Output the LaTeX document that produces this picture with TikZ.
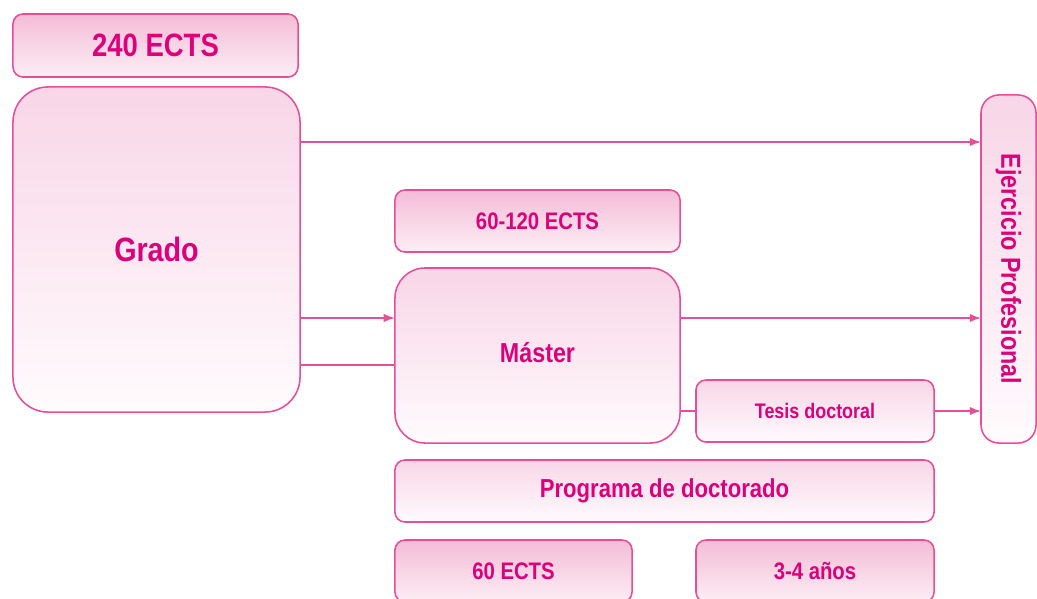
\documentclass[tikz,border=0pt]{standalone}
\usepackage{fontspec}
\setsansfont[FakeStretch=0.85]{Liberation Sans}
\usetikzlibrary{arrows.meta}

\definecolor{linepink}{RGB}{232,78,152}
\definecolor{textpink}{RGB}{222,0,122}
\definecolor{darktop}{RGB}{243,188,214}
\definecolor{darkbot}{RGB}{253,238,245}
\definecolor{lighttop}{RGB}{248,214,231}
\definecolor{lightbot}{RGB}{255,251,253}

\tikzset{
  box/.style={draw=linepink, line width=1.1pt, rounded corners=0.25cm,
    inner sep=0pt, outer sep=0pt, font=\sffamily\bfseries, text=textpink},
  darkbox/.style={box, top color=darktop, bottom color=darkbot},
  lightbox/.style={box, top color=lighttop, bottom color=lightbot},
  conn/.style={linepink, line width=1.1pt},
  arr/.style={conn, -{Latex[length=8pt,width=6pt]}}
}

\begin{document}
\begin{tikzpicture}[x=0.025cm, y=-0.025cm]
\useasboundingbox (0,0) rectangle (1037,598);

% left column
\node[darkbox, minimum width=7.125cm, minimum height=1.575cm, font=\sffamily\bfseries\fontsize{23}{26}\selectfont]
  (ects240) at (155.5,45.5) {240 ECTS};
\node[lightbox, rounded corners=0.875cm, minimum width=7.175cm, minimum height=8.125cm, font=\sffamily\bfseries\fontsize{24}{28}\selectfont]
  (grado) at (156.5,249.5) {Grado};

% middle column
\node[darkbox, minimum width=7.125cm, minimum height=1.55cm, font=\sffamily\bfseries\fontsize{17}{20}\selectfont]
  (ects60120) at (537.5,221) {60-120 ECTS};
\node[lightbox, rounded corners=0.75cm, minimum width=7.125cm, minimum height=4.375cm, font=\sffamily\bfseries\fontsize{19.5}{24}\selectfont]
  (master) at (537.5,355.5) {\raisebox{4pt}{Máster}};
\node[lightbox, minimum width=5.95cm, minimum height=1.55cm, font=\sffamily\bfseries\fontsize{15}{18}\selectfont]
  (tesis) at (815,411) {Tesis doctoral};
\node[lightbox, minimum width=13.475cm, minimum height=1.55cm, font=\sffamily\bfseries\fontsize{18.5}{22}\selectfont]
  (programa) at (664.5,491) {Programa de doctorado};
\node[darkbox, minimum width=5.925cm, minimum height=1.55cm, font=\sffamily\bfseries\fontsize{17}{20}\selectfont]
  (ects60) at (513.5,571) {60 ECTS};
\node[darkbox, minimum width=5.95cm, minimum height=1.55cm, font=\sffamily\bfseries\fontsize{17}{20}\selectfont]
  (anios) at (815,571) {3-4 años};

% right column
\node[lightbox, rounded corners=0.45cm, minimum width=1.375cm, minimum height=8.7cm, font=\sffamily\bfseries\fontsize{19.5}{24}\selectfont]
  (ejercicio) at (1008.5,269) {\rotatebox{-90}{Ejercicio Profesional}};

% connectors
\draw[arr] (grado.east |- 0,142) -- (ejercicio.west |- 0,142);
\draw[arr] (grado.east |- 0,318) -- (master.west |- 0,318);
\draw[conn] (grado.east |- 0,365) -- (master.west |- 0,365);
\draw[arr] (master.east |- 0,318) -- (ejercicio.west |- 0,318);
\draw[conn] (master.east |- 0,411) -- (tesis.west);
\draw[arr] (tesis.east) -- (ejercicio.west |- tesis.east);
\end{tikzpicture}
\end{document}
